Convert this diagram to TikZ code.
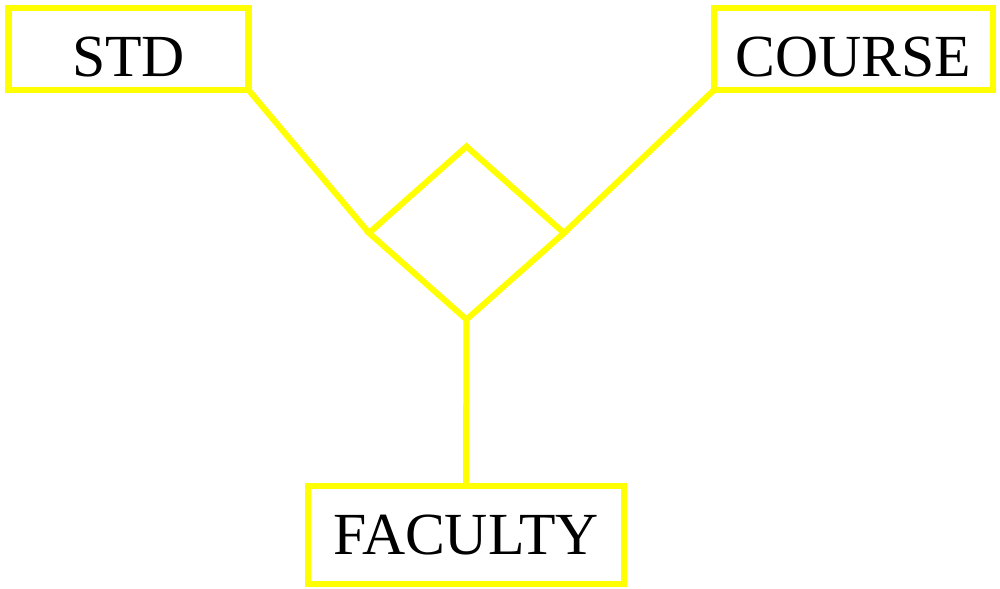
\documentclass[tikz,border=0pt]{standalone}
\usepackage{fontspec}
\setmainfont{Liberation Serif}
\usepackage{tikz}
\usetikzlibrary{shapes.geometric, positioning}
\definecolor{erline}{RGB}{255,255,0}
\tikzset{
  entity/.style={
    rectangle, draw=erline, line width=0.13cm,
    minimum height=1.64cm, inner sep=0pt, outer sep=0pt,
    text centered, font=\fontsize{34}{40}\selectfont
  },
  topentity/.style={entity, text height=1.12cm, text depth=0pt},
  relation/.style={
    diamond, draw=erline, line width=0.12cm,
    minimum width=3.9cm, minimum height=3.46cm, inner sep=0pt, outer sep=0pt
  },
  link/.style={draw=erline, line width=0.12cm}
}

\begin{document}
\begin{tikzpicture}
  \useasboundingbox (0,0) rectangle (20,11.78);

  \node[topentity, minimum width=4.8cm] (std) at (2.57,10.8) {STD};

  \node[topentity, minimum width=5.58cm] (course) at (17.07,10.8) {COURSE};

  \node[relation] (rel) at (9.33,7.12) {};

  \node[entity, minimum width=6.32cm, minimum height=1.96cm] (fac)
        at (9.32,1.08) {FACULTY};

  \draw[link] (std.south east) -- (rel.west);
  \draw[link] (course.south west) -- (rel.east);
  \draw[link] (rel.south) -- (fac.north);

\end{tikzpicture}
\end{document}
